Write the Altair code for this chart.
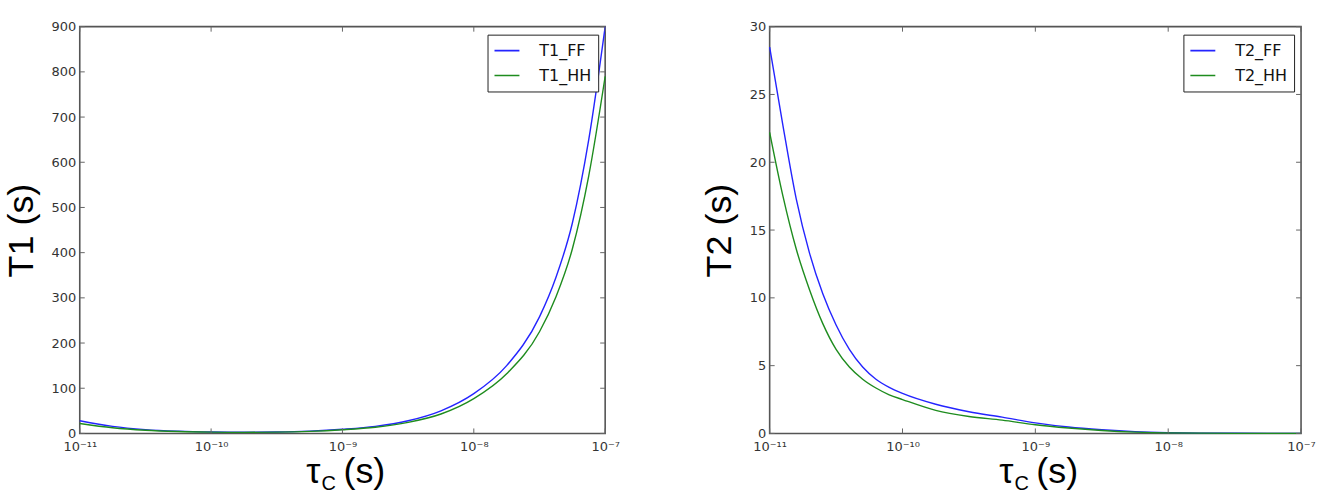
import json

import altair as alt
import pandas as pd

# Longitudinal relaxation T1 against correlation time (log10 of tau_c in s)
T1_LOG_TAU = [-11.0, -10.75, -10.5, -10.25, -10.0, -9.75, -9.5, -9.25, -9.0,
              -8.75, -8.5, -8.25, -8.0, -7.75, -7.5, -7.375, -7.25, -7.125, -7.0]
T1_FF = [28, 15.5, 8.5, 5.0, 3.2, 2.6, 3.2, 5.2, 9.2,
         15.5, 28, 50, 88, 150, 258, 345, 465, 650, 900]
T1_HH = [22, 12.5, 7.0, 4.2, 2.8, 2.3, 2.8, 4.6, 8.2,
         13.8, 24.5, 43, 77, 132, 225, 302, 408, 570, 790]

# Transverse relaxation T2 against correlation time
T2_LOG_TAU = [-11.0, -10.9, -10.8, -10.7, -10.6, -10.5, -10.4, -10.3, -10.2, -10.1,
              -10.0, -9.75, -9.5, -9.25, -9.0, -8.75, -8.5, -8.25, -8.0, -7.5, -7.0]
T2_FF = [28.5, 22.7, 17.3, 13.3, 10.3, 8.0, 6.2, 4.9, 4.0, 3.4,
         2.95, 2.15, 1.6, 1.2, 0.78, 0.47, 0.27, 0.13, 0.06, 0.01, 0.003]
T2_HH = [22.2, 17.5, 13.6, 10.6, 8.1, 6.2, 4.9, 4.0, 3.35, 2.85,
         2.5, 1.7, 1.25, 0.98, 0.64, 0.4, 0.22, 0.1, 0.04, 0.008, 0.002]

X_TICK_EXP = [-11, -10, -9, -8, -7]
X_TICK_LABELS = ["10⁻¹¹", "10⁻¹⁰", "10⁻⁹", "10⁻⁸", "10⁻⁷"]
T1_TICKS = [0, 100, 200, 300, 400, 500, 600, 700, 800, 900]
T2_TICKS = [0, 5, 10, 15, 20, 25, 30]

BLUE = "#2424ff"
GREEN = "#1e8c1e"
FRAME = "#555555"
H = 408
TICK_LEN = 5
LABEL_FONT = "DejaVu Sans"
TITLE_FONT = "Liberation Sans"

x_ticks = [10.0 ** e for e in X_TICK_EXP]
label_expr = (json.dumps(X_TICK_LABELS, ensure_ascii=False)
              + "[round(log(datum.value) / LN10) + 11]")


def long_frame(log_tau, series):
    rows = []
    for name, vals in series:
        for lt, v in zip(log_tau, vals):
            rows.append({"tau": 10.0 ** lt, "value": v, "series": name})
    return pd.DataFrame(rows)


def panel(log_tau, series, y_ticks, y_max, y_title, width, title_x):
    names = [n for n, _ in series]
    xs = alt.Scale(type="log", domain=[1e-11, 1e-7], nice=False)
    ys = alt.Scale(domain=[0, y_max], nice=False)
    x_axis = alt.Axis(values=x_ticks, labelExpr=label_expr, title=None, grid=False,
                      ticks=False, domain=False, labelFont=LABEL_FONT, labelFontSize=13,
                      labelColor="#333333", labelPadding=7, labelOverlap=False,
                      labelFlush=False)
    y_axis = alt.Axis(values=y_ticks, title=y_title, grid=False, ticks=False, domain=False,
                      labelFont=LABEL_FONT, labelFontSize=13, labelColor="#333333",
                      labelPadding=4, titleFont=TITLE_FONT, titleFontSize=36,
                      titleFontWeight="normal", titleColor="#000000", titleAngle=270,
                      titleX=title_x, titleY=H / 2, titleAlign="center",
                      titleBaseline="middle")

    lines = alt.Chart(long_frame(log_tau, series)).mark_line(
        strokeWidth=1.4, interpolate="monotone"
    ).encode(
        x=alt.X("tau:Q", scale=xs, axis=x_axis),
        y=alt.Y("value:Q", scale=ys, axis=y_axis),
        color=alt.Color(
            "series:N",
            scale=alt.Scale(domain=names, range=[BLUE, GREEN]),
            sort=names,
            legend=alt.Legend(
                title=None, orient="none", legendX=width - 118, legendY=8,
                strokeColor="#222222", fillColor="white", padding=6,
                cornerRadius=0, symbolType="stroke", symbolSize=625,
                symbolStrokeWidth=1.6, labelFont=LABEL_FONT, labelFontSize=16,
                labelColor="#111111", labelOffset=19, rowPadding=5, clipHeight=20,
            ),
        ),
        order=alt.Order("tau:Q"),
    )

    ytick_df = pd.DataFrame({"tick": y_ticks})
    xtick_df = pd.DataFrame({"xt": x_ticks})
    tick_style = dict(color="#666666", strokeWidth=1)
    left_ticks = alt.Chart(ytick_df).mark_rule(**tick_style).encode(
        y=alt.Y("tick:Q", scale=ys), x=alt.value(0), x2=alt.value(TICK_LEN))
    right_ticks = alt.Chart(ytick_df).mark_rule(**tick_style).encode(
        y=alt.Y("tick:Q", scale=ys), x=alt.value(width - TICK_LEN), x2=alt.value(width))
    bottom_ticks = alt.Chart(xtick_df).mark_rule(**tick_style).encode(
        x=alt.X("xt:Q", scale=xs), y=alt.value(H), y2=alt.value(H - TICK_LEN))
    top_ticks = alt.Chart(xtick_df).mark_rule(**tick_style).encode(
        x=alt.X("xt:Q", scale=xs), y=alt.value(0), y2=alt.value(TICK_LEN))

    # x-axis title "τc (s)" with a lowered, smaller c
    cx = width / 2
    base_y = H + 50
    one = pd.DataFrame({"k": [0]})
    tau_txt = alt.Chart(one).mark_text(
        text="τ", font=TITLE_FONT, fontSize=36, align="right", baseline="alphabetic",
        color="black").encode(x=alt.value(cx - 22), y=alt.value(base_y))
    sub_txt = alt.Chart(one).mark_text(
        text="C", font=TITLE_FONT, fontSize=20, align="left", baseline="alphabetic",
        color="black").encode(x=alt.value(cx - 21), y=alt.value(base_y + 7))
    unit_txt = alt.Chart(one).mark_text(
        text="(s)", font=TITLE_FONT, fontSize=36, align="left", baseline="alphabetic",
        color="black").encode(x=alt.value(cx + 1), y=alt.value(base_y))

    return alt.layer(
        lines, left_ticks, right_ticks, bottom_ticks, top_ticks,
        tau_txt, sub_txt, unit_txt,
    ).properties(width=width, height=H)


left = panel(T1_LOG_TAU, [("T1_FF", T1_FF), ("T1_HH", T1_HH)], T1_TICKS, 900,
             "T1 (s)", 527, -58)
right = panel(T2_LOG_TAU, [("T2_FF", T2_FF), ("T2_HH", T2_HH)], T2_TICKS, 30,
              "T2 (s)", 533, -50)

chart = alt.hconcat(left, right, spacing=80).resolve_scale(
    color="independent", x="independent", y="independent"
).properties(
    padding={"left": 3, "top": 19, "right": 0, "bottom": 0},
    background="white",
).configure_view(
    stroke=FRAME, strokeWidth=1.6
)

chart.save("out.html", embed_options={"renderer": "svg", "actions": False})
